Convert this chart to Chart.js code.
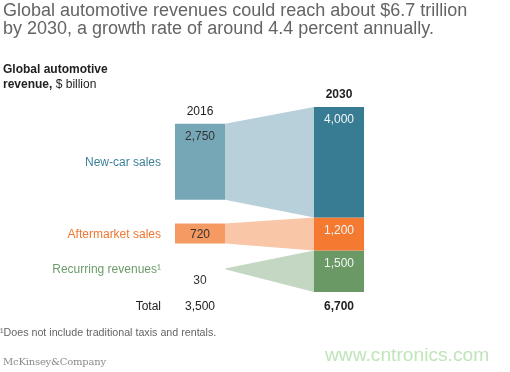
<!DOCTYPE html>
<html>
<head>
<meta charset="utf-8">
<script src="https://cdn.jsdelivr.net/npm/chart.js@4/dist/chart.umd.min.js"></script>
<style>
  html, body { margin: 0; padding: 0; background: #ffffff; }
  #wrap { position: relative; width: 510px; height: 372px; overflow: hidden; font-family: "Liberation Sans", Arial, sans-serif; }
  #c { position: absolute; left: 0; top: 0; }
  .t { position: absolute; white-space: nowrap; }
  #title { left: 3px; top: 0.5px; font-size: 18px; line-height: 18.5px; color: #646464; }
  #sub { left: 3px; top: 62px; font-size: 12px; line-height: 15px; color: #222; }
  #foot { left: 0px; top: 325.5px; font-size: 10.7px; line-height: 12px; color: #666; }
  #logo { left: 3px; top: 355px; font-family: "DejaVu Serif", "Liberation Serif", serif; font-size: 10px; line-height: 13px; color: #8a8a8a; letter-spacing: -0.2px; }
  #wm { left: 325px; top: 344px; font-size: 19.2px; line-height: 22px; color: #bfe5b8; }
</style>
</head>
<body>
<div id="wrap">
  <canvas id="c" width="510" height="372"></canvas>
  <div class="t" id="title">Global automotive revenues could reach about $6.7 trillion<br>by 2030, a growth rate of around 4.4 percent annually.</div>
  <div class="t" id="sub"><b>Global automotive</b><br><b>revenue,</b> $ billion</div>
  <div class="t" id="foot">¹Does not include traditional taxis and rentals.</div>
  <div class="t" id="logo">McKinsey&amp;Company</div>
  <div class="t" id="wm">www.cntronics.com</div>
</div>
<script>
// ---- data ----
const categories = ['New-car sales', 'Aftermarket sales', 'Recurring revenues¹'];
const years = ['2016', '2030'];
const values2016 = [2750, 720, 30];
const values2030 = [4000, 1200, 1500];
const totals = ['3,500', '6,700'];
const valueLabels2016 = ['2,750', '720', '30'];
const valueLabels2030 = ['4,000', '1,200', '1,500'];

// ---- layout (where the separated 2016 blocks sit on the value axis) ----
const base2016 = [3340, 1760, 820];
const BAR_FRACTION = 0.36;

// 2030 blocks are stacked contiguously from the bottom (last category at bottom)
const base2030 = values2030.map((v, i) => values2030.slice(i + 1).reduce((a, b) => a + b, 0));

const colors2016 = ['#75a7b6', '#f59a62', 'rgba(195,215,195,0)'];
const colors2030 = ['#387c94', '#f37a30', '#6a9966'];
const bandColors = ['#b8d0d9', '#f9c6a8', '#c3d7c3'];
const labelColors = ['#3f8099', '#f07630', '#6c9c69'];

const bars = categories.map((c, i) => ({
  type: 'bar',
  label: c,
  data: [
    { x: 0, y: [base2016[i], base2016[i] + values2016[i]] },
    { x: 1, y: [base2030[i], base2030[i] + values2030[i]] }
  ],
  backgroundColor: [colors2016[i], colors2030[i]],
  borderWidth: 0,
  grouped: false,
  categoryPercentage: BAR_FRACTION,
  barPercentage: 1,
  order: 0
}));

const half = BAR_FRACTION / 2;
const bands = [];
categories.forEach((c, i) => {
  bands.push({
    type: 'line', label: c + ' top',
    data: [
      { x: 0 + half, y: base2016[i] + values2016[i] },
      { x: 1 - half, y: base2030[i] + values2030[i] }
    ],
    borderWidth: 0, pointRadius: 0, fill: false, order: 1
  });
  bands.push({
    type: 'line', label: c + ' bottom',
    data: [
      { x: 0 + half, y: base2016[i] },
      { x: 1 - half, y: base2030[i] }
    ],
    borderWidth: 0, pointRadius: 0, fill: '-1', backgroundColor: bandColors[i], order: 1
  });
});

const FONT = '"Liberation Sans", Arial, sans-serif';

const labelPlugin = {
  id: 'labels',
  afterDatasetsDraw(chart) {
    const ctx = chart.ctx;
    const yScale = chart.scales.y;
    ctx.save();
    ctx.textBaseline = 'middle';
    let leftEdge = 0;
    const tops = [Infinity, Infinity];
    const centers = [0, 0];
    categories.forEach((cat, i) => {
      const meta = chart.getDatasetMeta(i);
      meta.data.forEach((el, j) => {
        const p = el.getProps(['x', 'y', 'base', 'width'], true);
        const top = Math.min(p.y, p.base);
        const bottom = Math.max(p.y, p.base);
        const h = bottom - top;
        tops[j] = Math.min(tops[j], top);
        centers[j] = p.x;
        let ty;
        if (h > 26) ty = top + 13;
        else if (h > 10) ty = (top + bottom) / 2 + 1;
        else ty = bottom + 11;
        ctx.font = '12px ' + FONT;
        ctx.textAlign = 'center';
        ctx.fillStyle = j === 0 ? '#333333' : '#f2f5f5';
        ctx.fillText(j === 0 ? valueLabels2016[i] : valueLabels2030[i], p.x, ty);
        if (j === 0) {
          leftEdge = p.x - p.width / 2;
          ctx.textAlign = 'right';
          ctx.fillStyle = labelColors[i];
          ctx.fillText(cat, leftEdge - 14, (top + bottom) / 2 + 1);
        }
      });
    });
    // year headers
    ctx.textAlign = 'center';
    ctx.fillStyle = '#222222';
    ctx.font = '12px ' + FONT;
    ctx.fillText(years[0], centers[0], tops[0] - 12);
    ctx.font = 'bold 12px ' + FONT;
    ctx.fillText(years[1], centers[1], tops[1] - 12);
    // totals row
    const ty = yScale.getPixelForValue(0) + 15;
    ctx.font = '12px ' + FONT;
    ctx.textAlign = 'right';
    ctx.fillText('Total', leftEdge - 14, ty);
    ctx.textAlign = 'center';
    ctx.fillText(totals[0], centers[0], ty);
    ctx.font = 'bold 12px ' + FONT;
    ctx.fillText(totals[1], centers[1], ty);
    ctx.restore();
  }
};

new Chart(document.getElementById('c'), {
  type: 'bar',
  data: { datasets: [...bars, ...bands] },
  options: {
    responsive: false,
    animation: false,
    layout: { padding: { left: 61, right: 32, top: 107, bottom: 80 } },
    scales: {
      x: { type: 'linear', min: -1, max: 2, offset: false, display: false, ticks: { stepSize: 1 } },
      y: { type: 'linear', min: 0, max: 6700, display: false }
    },
    plugins: { legend: { display: false }, tooltip: { enabled: false } }
  },
  plugins: [labelPlugin]
});
</script>
</body>
</html>
